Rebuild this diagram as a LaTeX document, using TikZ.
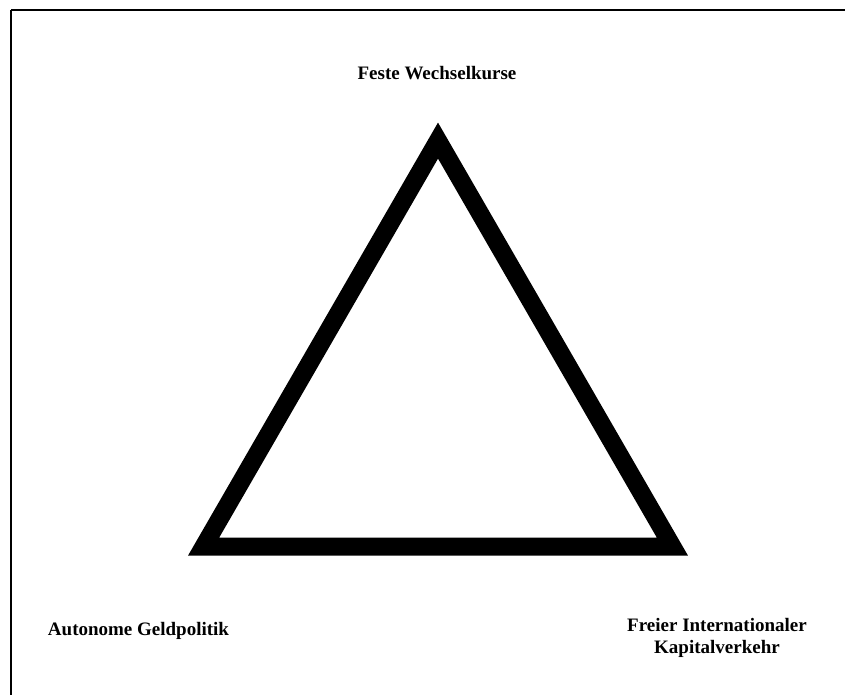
\documentclass[tikz,border=0pt]{standalone}
\usepackage{fontspec}
\setmainfont{Liberation Serif}
\tikzset{
  ecke/.style={font=\bfseries\fontsize{19}{21.5}\selectfont, inner sep=0pt, anchor=base},
  rahmen/.style={line width=2pt},
  dreieck/.style={line width=18pt, miter limit=10, line join=miter}
}
\begin{document}
\begin{tikzpicture}[x=1pt, y=-1pt]
				\useasboundingbox (0,0) rectangle (845,695);
				% 1. Rahmen oben und links
				\draw[rahmen] (11,10) -- (845,10);
				\draw[rahmen] (11,10) -- (11,695);
				
				% 2. Ecken des Dreiecks
				\coordinate (oben)   at (438,140.6);
				\coordinate (links)  at (203.6,546.6);
				\coordinate (rechts) at (672.4,546.6);
				
				% 3. Dreieck
				\draw[dreieck] (oben) -- (links) -- (rechts) -- cycle;
				
				% 4. Beschriftungen (Grundlinie der letzten Zeile)
				\node[ecke] (wechsel) at (437,80) {Feste Wechselkurse};
				\node[ecke] (geld) at (138.5,635) {Autonome Geldpolitik};
				\node[ecke, align=center] (kapital) at (717,653) {Freier Internationaler\\Kapitalverkehr};
\end{tikzpicture}
\end{document}
